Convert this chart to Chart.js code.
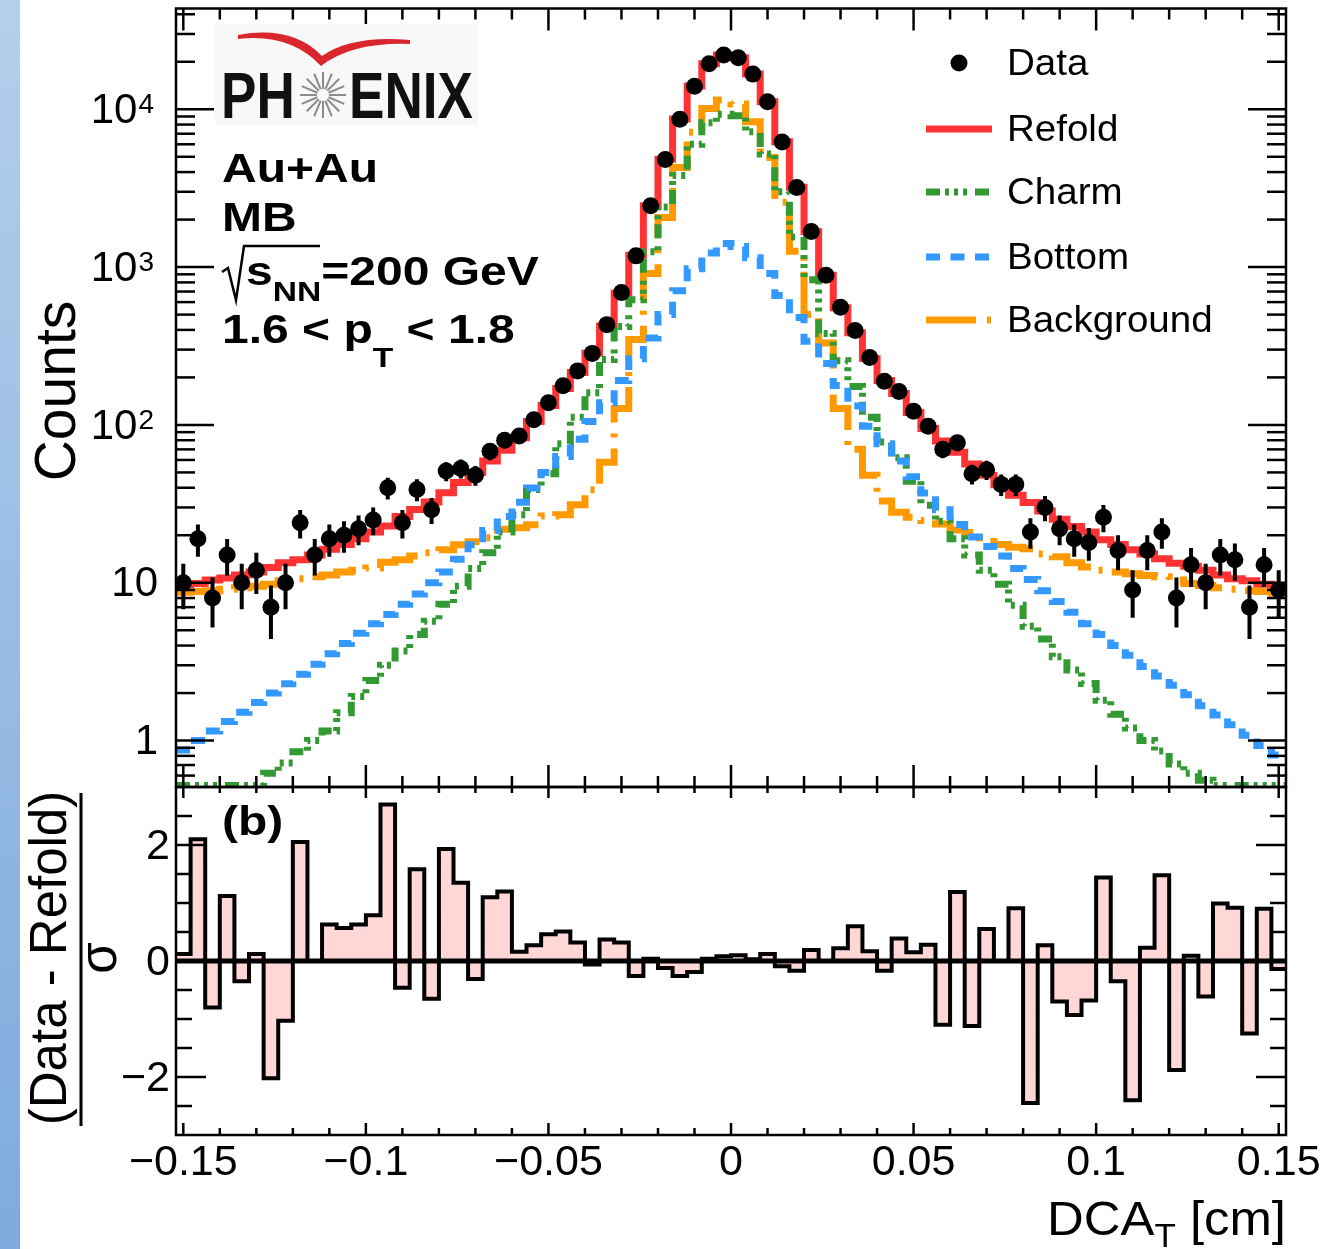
<!DOCTYPE html>
<html>
<head>
<meta charset="utf-8">
<title>DCA_T fit, Au+Au MB</title>
<script src="https://cdn.jsdelivr.net/npm/chart.js@4.4.1/dist/chart.umd.min.js"></script>
<style>
    body { margin: 0; background: #fff; }
    #wrap { position: relative; width: 1324px; height: 1249px; overflow: hidden; }
    #band { position: absolute; left: 0; top: 0; width: 20px; height: 1249px;
            background: linear-gradient(#b3cfeb, #7eaadd); }
    canvas { position: absolute; left: 0; top: 0; }
</style>
</head>
<body>
<div id="wrap">
    <div id="band"></div>
    <canvas id="topPad" width="1324" height="1249"></canvas>
    <canvas id="ratioPad" width="1324" height="1249"></canvas>
</div>
<script>
'use strict';
// binning of the DCA_T histograms (cm)
var binLow = -0.152;
var binWidth = 0.004;

var dataCounts = [10, 19, 8, 15, 10, 12, 7, 10, 24, 15,
    19, 20, 22, 25, 40, 24, 39, 29, 51, 53,
    48, 68, 80, 85, 108, 138, 177, 220, 284, 432,
    690, 1178, 2448, 4810, 8650, 14000, 19450, 22100, 21200, 16700,
    11170, 6210, 3190, 1680, 889, 557, 396, 267, 189, 163,
    122, 98, 70, 77, 49, 52, 42, 42, 21, 30,
    22, 19, 18, 26, 16, 9, 16, 21, 8, 13,
    10, 15, 14, 7, 13, 9];
var dataErrors = [3.2, 4.4, 2.8, 3.9, 3.2, 3.5, 2.6, 3.2, 4.9, 3.9,
    4.4, 4.5, 4.7, 5.0, 6.3, 4.9, 6.2, 5.4, 7.1, 7.3,
    6.9, 8.2, 8.9, 9.2, 10.4, 11.7, 13.3, 14.8, 16.9, 20.8,
    26, 34, 49, 69, 93, 118, 139, 149, 146, 129,
    106, 79, 56, 41, 30, 24, 20, 16, 14, 13,
    11, 9.9, 8.4, 8.8, 7.0, 7.2, 6.5, 6.5, 4.6, 5.5,
    4.7, 4.4, 4.2, 5.1, 4.0, 3.0, 4.0, 4.6, 2.8, 3.6,
    3.2, 3.9, 3.7, 2.6, 3.6, 3.0];
var refold = [9.7, 9.9, 10.4, 10.7, 11.2, 11.7, 12.5, 13.4, 14.0, 15.0,
    16.3, 17.5, 19.0, 21.0, 22.9, 26.3, 29.1, 32.5, 37.2, 43.2,
    50, 59, 69, 83, 105, 133, 170, 215, 285, 424,
    682, 1187, 2446, 4818, 8674, 14020, 19440, 22090, 21190, 16700,
    11160, 6217, 3200, 1672, 889, 552, 384, 264, 191, 158,
    120, 95, 79, 67, 56.5, 48, 41.8, 35.9, 32.2, 28.5,
    25.3, 22.7, 21.0, 18.7, 17.5, 16.2, 15.2, 14.2, 13.3, 12.7,
    12.0, 11.2, 10.6, 10.3, 9.8, 9.4];
var charm = [0.52, 0.52, 0.52, 0.52, 0.52, 0.52, 0.62, 0.72, 0.85, 1.0,
    1.15, 1.5, 1.9, 2.4, 3.0, 3.7, 4.7, 5.7, 7.3, 9.5,
    12.3, 15.5, 21, 27, 39, 49, 76, 112, 160, 260,
    420, 620, 1250, 2400, 3800, 6000, 8200, 9300, 9100, 7200,
    5200, 3000, 1550, 830, 380, 255, 175, 112, 78, 62,
    44, 31, 24.5, 19, 15, 12, 9.8, 7.2, 5.3, 4.4,
    3.4, 2.8, 2.3, 1.8, 1.47, 1.2, 1.0, 0.86, 0.71, 0.62,
    0.56, 0.52, 0.52, 0.52, 0.52, 0.52];
var bottom = [0.87, 1.0, 1.15, 1.32, 1.51, 1.74, 2.0, 2.29, 2.63, 3.05,
    3.55, 4.12, 4.79, 5.5, 6.3, 7.3, 8.5, 10.0, 11.7, 14.1,
    17.4, 21.4, 26.3, 32.4, 39.8, 50, 63, 81, 105, 138,
    191, 263, 355, 501, 708, 977, 1230, 1413, 1349, 1148,
    912, 661, 479, 339, 245, 178, 132, 98, 76, 59,
    47, 37, 29, 23.4, 19.5, 17.0, 14.8, 12.3, 10.5, 8.9,
    7.6, 6.5, 5.5, 4.7, 4.0, 3.47, 2.95, 2.57, 2.24, 1.95,
    1.66, 1.45, 1.26, 1.08, 0.93, 0.81];
var background = [8.7, 8.8, 8.9, 9.1, 9.3, 9.5, 9.8, 10.3, 10.6, 10.9,
    11.2, 11.7, 12.0, 12.4, 13.5, 14.0, 14.8, 15.5, 16.2, 17.4,
    18.2, 19.3, 21.8, 22.3, 23.3, 26.5, 27.0, 31.2, 38.8, 58,
    127, 348, 910, 2060, 4270, 7140, 10100, 11440, 10800, 8340,
    4950, 2580, 1260, 500, 330, 127, 70, 48, 33, 28,
    26, 24.8, 23.6, 21.6, 20.8, 19.3, 17.5, 16.8, 16.4, 15.2,
    14.6, 13.4, 12.6, 12.0, 11.7, 11.4, 11.1, 10.9, 10.4, 9.9,
    9.6, 9.3, 9.1, 8.9, 8.8, 8.6];
// (Data - Refold) / sigma
var pull = [0.12, 2.10, -0.80, 1.12, -0.35, 0.12, -2.02, -1.03, 2.05, 0.0,
    0.63, 0.57, 0.63, 0.79, 2.70, -0.46, 1.58, -0.65, 1.93, 1.35,
    -0.31, 1.10, 1.20, 0.16, 0.27, 0.46, 0.51, 0.32, -0.06, 0.37,
    0.32, -0.26, 0.04, -0.12, -0.26, -0.19, 0.04, 0.08, 0.10, 0.03,
    0.12, -0.09, -0.17, 0.19, 0.0, 0.22, 0.60, 0.17, -0.17, 0.39,
    0.15, 0.28, -1.10, 1.19, -1.12, 0.55, 0.0, 0.91, -2.45, 0.27,
    -0.70, -0.93, -0.68, 1.44, -0.35, -2.40, 0.23, 1.48, -1.88, 0.09,
    -0.61, 0.99, 0.92, -1.25, 0.90, -0.14];

var xTickValues = [-0.15, -0.1, -0.05, 0, 0.05, 0.1, 0.15];
var xTickLabels = ['\u22120.15', '\u22120.1', '\u22120.05', '0', '0.05', '0.1', '0.15'];
var countTickValues = [1, 10, 100, 1000, 10000];
var countTickLabels = [['1', ''], ['10', ''], ['10', '2'], ['10', '3'], ['10', '4']];
var pullTickValues = [-2, 0, 2];
var pullTickLabels = ['\u22122', '0', '2'];

var colRefold = '#ff3333';
var colCharm = '#339933';
var colBottom = '#3399ff';
var colBackground = '#ff9900';
var dashCharm = [14, 5, 4, 5, 4, 5, 4, 8];
var dashBottom = [14, 10.5];
var dashBackground = [50, 11, 4, 11];

var fontFamily = '"Liberation Sans", Arial, Helvetica, sans-serif';

// step outline: one point per left bin edge plus the last right edge
function histPoints(vals) {
    var pts = vals.map(function (v, i) {
        return { x: binLow + i * binWidth, y: v };
    });
    pts.push({ x: binLow + vals.length * binWidth, y: vals[vals.length - 1] });
    return pts;
}

function centerPoints(vals) {
    return vals.map(function (v, i) {
        return { x: binLow + (i + 0.5) * binWidth, y: v };
    });
}

function setFont(ctx, size, bold) {
    ctx.font = (bold ? 'bold ' : '') + size + 'px ' + fontFamily;
}

// text pieces drawn left to right, sub/superscripts via dy
function drawRun(ctx, x, y, pieces, sx) {
    sx = sx || 1;
    pieces.forEach(function (p) {
        setFont(ctx, p.size, p.bold);
        ctx.save();
        ctx.translate(x, y + (p.dy || 0));
        ctx.scale(sx, 1);
        ctx.textBaseline = 'alphabetic';
        ctx.textAlign = 'left';
        ctx.fillText(p.text, 0, 0);
        ctx.restore();
        x += ctx.measureText(p.text).width * sx;
    });
    return x;
}

function runWidth(ctx, pieces, sx) {
    var w = 0;
    pieces.forEach(function (p) {
        setFont(ctx, p.size, p.bold);
        w += ctx.measureText(p.text).width;
    });
    return w * (sx || 1);
}

// vertical title reading upwards; baseX is the baseline position
function rotatedText(ctx, str, baseX, cy, size) {
    ctx.save();
    setFont(ctx, size, false);
    ctx.translate(baseX, cy);
    ctx.rotate(-Math.PI / 2);
    ctx.textAlign = 'center';
    ctx.textBaseline = 'alphabetic';
    ctx.fillText(str, 0, 0);
    ctx.restore();
}

function line(ctx, x1, y1, x2, y2) {
    ctx.beginPath();
    ctx.moveTo(x1, y1);
    ctx.lineTo(x2, y2);
    ctx.stroke();
}

// inward ticks along the top and bottom edges, every 0.01 cm
function xTicks(ctx, xs, area, bigBottom, smallBottom, bigTop, smallTop) {
    for (var i = -15; i <= 15; i++) {
        var px = xs.getPixelForValue(i / 100);
        var major = i % 5 === 0;
        line(ctx, px, area.bottom, px, area.bottom - (major ? bigBottom : smallBottom));
        line(ctx, px, area.top, px, area.top + (major ? bigTop : smallTop));
    }
}

var errorBars = {
    id: 'errorBars',
    afterDatasetsDraw: function (chart) {
        var ctx = chart.ctx, xs = chart.scales.x, ys = chart.scales.y, a = chart.chartArea;
        ctx.save();
        ctx.beginPath();
        ctx.rect(a.left, a.top, a.right - a.left, a.bottom - a.top);
        ctx.clip();
        ctx.strokeStyle = '#000';
        ctx.lineWidth = 4;
        dataCounts.forEach(function (v, i) {
            var px = xs.getPixelForValue(binLow + (i + 0.5) * binWidth);
            var lo = Math.max(v - dataErrors[i], ys.min);
            line(ctx, px, ys.getPixelForValue(lo), px, ys.getPixelForValue(v + dataErrors[i]));
        });
        ctx.restore();
    }
};

function drawLogo(ctx) {
    ctx.save();
    ctx.fillStyle = '#f8f8f8';
    ctx.fillRect(215, 24, 263, 101);
    // red wing
    ctx.fillStyle = '#d9262c';
    ctx.beginPath();
    ctx.moveTo(238, 35);
    ctx.quadraticCurveTo(292, 25, 322, 56);
    ctx.quadraticCurveTo(352, 35, 410, 40);
    ctx.lineTo(410, 44);
    ctx.quadraticCurveTo(352, 42, 321, 66);
    ctx.quadraticCurveTo(290, 33, 238, 39);
    ctx.closePath();
    ctx.fill();
    ctx.fillStyle = '#111';
    drawRun(ctx, 221, 118, [{ text: 'PH', size: 64, bold: true }], 0.83);
    drawRun(ctx, 349, 118, [{ text: 'ENIX', size: 64, bold: true }], 0.83);
    // star burst between H and E
    ctx.strokeStyle = '#8c8c8c';
    ctx.lineWidth = 2;
    for (var k = 0; k < 16; k++) {
        var ang = k * Math.PI / 8;
        line(ctx, 323 + 6 * Math.cos(ang), 95 + 6 * Math.sin(ang),
            323 + 23 * Math.cos(ang), 95 + 23 * Math.sin(ang));
    }
    ctx.restore();
}

var topDecor = {
    id: 'topDecor',
    afterDraw: function (chart) {
        var ctx = chart.ctx, xs = chart.scales.x, ys = chart.scales.y, a = chart.chartArea;
        ctx.save();
        ctx.strokeStyle = '#000';
        ctx.fillStyle = '#000';
        ctx.lineWidth = 2.5;
        ctx.strokeRect(a.left, a.top, a.right - a.left, a.bottom - a.top);
        xTicks(ctx, xs, a, 22, 11, 22, 11);
        // log ticks on both sides
        for (var d = -1; d <= 4; d++) {
            for (var m = 1; m <= 9; m++) {
                var v = m * Math.pow(10, d);
                if (v < ys.min || v > ys.max) continue;
                var py = ys.getPixelForValue(v);
                var len = m === 1 ? 38 : 19;
                line(ctx, a.left, py, a.left + len, py);
                line(ctx, a.right, py, a.right - len, py);
            }
        }
        // tick labels
        countTickValues.forEach(function (v, i) {
            var py = ys.getPixelForValue(v);
            var lab = countTickLabels[i];
            ctx.textBaseline = 'middle';
            ctx.textAlign = 'right';
            if (lab[1] === '') {
                setFont(ctx, 42, false);
                ctx.fillText(lab[0], 158, py + 2);
            } else {
                setFont(ctx, 28, false);
                var sw = ctx.measureText(lab[1]).width;
                ctx.textBaseline = 'alphabetic';
                ctx.fillText(lab[1], 154, py + 4);
                setFont(ctx, 42, false);
                ctx.textBaseline = 'middle';
                ctx.fillText(lab[0], 154 - sw - 1, py + 2);
            }
        });
        rotatedText(ctx, 'Counts', 75, 391, 57);

        drawLogo(ctx);

        // collision system and pT bin
        var sx = 1.2;
        drawRun(ctx, 222, 182, [{ text: 'Au+Au', size: 40, bold: true }], sx);
        drawRun(ctx, 222, 231, [{ text: 'MB', size: 40, bold: true }], sx);
        ctx.lineWidth = 2.5;
        ctx.beginPath();
        ctx.moveTo(222, 272);
        ctx.lineTo(228, 268);
        ctx.lineTo(236, 300);
        ctx.lineTo(244, 246);
        ctx.lineTo(320, 246);
        ctx.stroke();
        drawRun(ctx, 246, 285, [
            { text: 's', size: 40, bold: true },
            { text: 'NN', size: 28, bold: true, dy: 16 },
            { text: '=200 GeV', size: 40, bold: true }
        ], sx);
        drawRun(ctx, 222, 343, [
            { text: '1.6 < p', size: 40, bold: true },
            { text: 'T', size: 28, bold: true, dy: 24 },
            { text: ' < 1.8', size: 40, bold: true }
        ], sx);

        // legend
        var rows = [
            { label: 'Data', y: 63 },
            { label: 'Refold', y: 129, color: colRefold, dash: [] },
            { label: 'Charm', y: 192, color: colCharm, dash: dashCharm },
            { label: 'Bottom', y: 257, color: colBottom, dash: dashBottom },
            { label: 'Background', y: 320, color: colBackground, dash: dashBackground }
        ];
        rows.forEach(function (r) {
            if (r.color) {
                ctx.save();
                ctx.strokeStyle = r.color;
                ctx.lineWidth = 7;
                ctx.setLineDash(r.dash);
                line(ctx, 926, r.y, 992, r.y);
                ctx.restore();
            } else {
                ctx.beginPath();
                ctx.arc(959, r.y, 8.5, 0, 2 * Math.PI);
                ctx.fill();
            }
            drawRun(ctx, 1007, r.y + 12, [{ text: r.label, size: 36 }], 1.07);
        });
        ctx.restore();
    }
};

var ratioDecor = {
    id: 'ratioDecor',
    afterDraw: function (chart) {
        var ctx = chart.ctx, xs = chart.scales.x, ys = chart.scales.y, a = chart.chartArea;
        ctx.save();
        ctx.strokeStyle = '#000';
        ctx.fillStyle = '#000';
        ctx.lineWidth = 2.5;
        ctx.strokeRect(a.left, a.top, a.right - a.left, a.bottom - a.top);
        xTicks(ctx, xs, a, 12, 7, 11, 6);
        for (var i = -5; i <= 5; i++) {
            var py = ys.getPixelForValue(i / 2);
            var len = i % 4 === 0 ? 30 : 16;
            line(ctx, a.left, py, a.left + len, py);
            line(ctx, a.right, py, a.right - len, py);
        }
        setFont(ctx, 43, false);
        ctx.textAlign = 'right';
        ctx.textBaseline = 'middle';
        pullTickValues.forEach(function (v, i) {
            ctx.fillText(pullTickLabels[i], 170, ys.getPixelForValue(v) + 2);
        });
        ctx.textAlign = 'center';
        ctx.textBaseline = 'alphabetic';
        xTickValues.forEach(function (v, i) {
            ctx.fillText(xTickLabels[i], xs.getPixelForValue(v), 1175);
        });

        // axis titles
        var title = [
            { text: 'DCA', size: 48 },
            { text: 'T', size: 33, dy: 12 },
            { text: ' [cm]', size: 48 }
        ];
        drawRun(ctx, 1286 - runWidth(ctx, title, 1.06), 1235, title, 1.06);
        rotatedText(ctx, '(Data - Refold)', 66, 958, 51);
        ctx.lineWidth = 3;
        line(ctx, 81, 793, 81, 1126);
        rotatedText(ctx, '\u03c3', 116, 958, 51);

        drawRun(ctx, 222, 835, [{ text: '(b)', size: 40, bold: true }], 1.2);
        ctx.restore();
    }
};

var commonOptions = function (padding, yScale) {
    return {
        responsive: false,
        animation: false,
        devicePixelRatio: 1,
        layout: { padding: padding },
        scales: {
            x: { type: 'linear', min: binLow, max: -binLow, display: false },
            y: yScale
        },
        plugins: { legend: { display: false }, tooltip: { enabled: false } },
        elements: { line: { tension: 0 }, point: { radius: 0 } }
    };
};

function histDataset(label, vals, color, dash) {
    return {
        label: label,
        data: histPoints(vals),
        stepped: 'before',
        borderColor: color,
        borderWidth: 7,
        borderDash: dash,
        borderJoinStyle: 'miter',
        borderCapStyle: 'butt',
        fill: false,
        pointRadius: 0,
        clip: 0
    };
}

new Chart(document.getElementById('topPad'), {
    type: 'line',
    data: {
        datasets: [
            {
                label: 'Data',
                data: centerPoints(dataCounts),
                showLine: false,
                pointRadius: 8.5,
                pointBackgroundColor: '#000',
                pointBorderWidth: 0,
                clip: 10
            },
            histDataset('Bottom', bottom, colBottom, dashBottom),
            histDataset('Charm', charm, colCharm, dashCharm),
            histDataset('Background', background, colBackground, dashBackground),
            histDataset('Refold', refold, colRefold, [])
        ]
    },
    options: commonOptions({ left: 176, right: 38, top: 5, bottom: 462 },
        { type: 'logarithmic', min: 0.508, max: 43500, display: false }),
    plugins: [errorBars, topDecor]
});

new Chart(document.getElementById('ratioPad'), {
    type: 'line',
    data: {
        datasets: [
            {
                label: 'zero',
                data: [{ x: binLow, y: 0 }, { x: -binLow, y: 0 }],
                borderColor: '#000',
                borderWidth: 5,
                pointRadius: 0
            },
            {
                label: '(Data - Refold)/sigma',
                data: histPoints(pull),
                stepped: 'before',
                borderColor: '#000',
                borderWidth: 4,
                borderJoinStyle: 'miter',
                backgroundColor: '#ffd7d7',
                fill: { value: 0 },
                pointRadius: 0
            }
        ]
    },
    options: commonOptions({ left: 176, right: 38, top: 787, bottom: 114 },
        { type: 'linear', min: -3, max: 3, display: false }),
    plugins: [ratioDecor]
});
</script>
</body>
</html>
